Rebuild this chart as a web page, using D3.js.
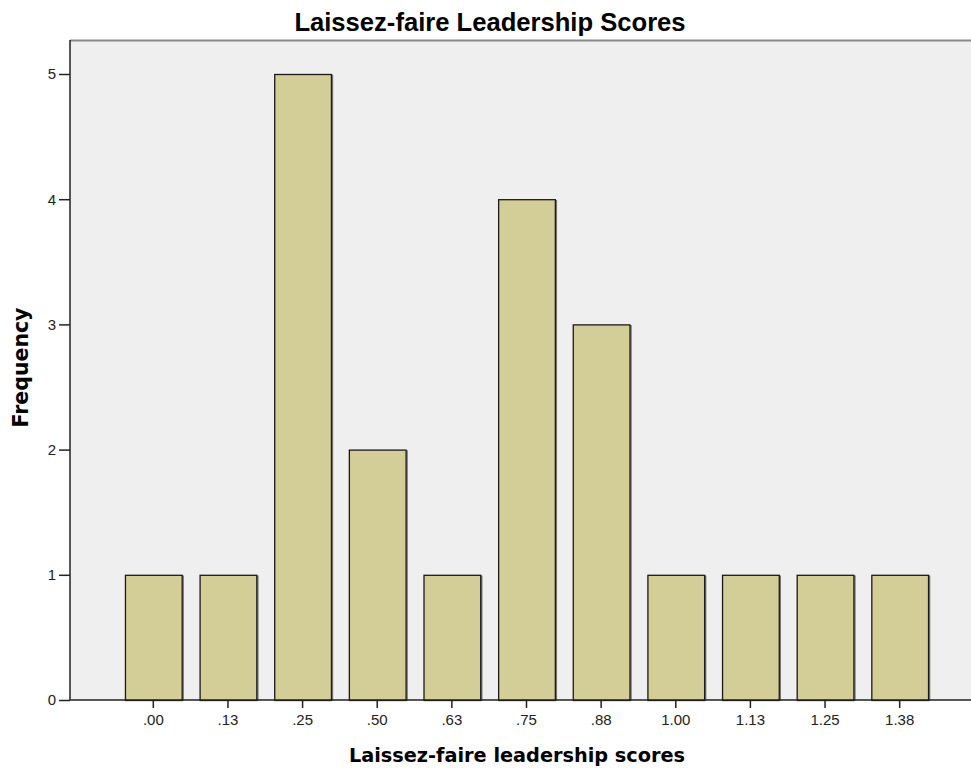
<!DOCTYPE html>
<html>
<head>
<meta charset="utf-8">
<script src="https://cdn.jsdelivr.net/npm/d3@7"></script>
<style>
  body { margin: 0; background: #fff; }
  text { font-family: Arial, "Liberation Sans", sans-serif; }
</style>
</head>
<body>
<script>
'use strict';

var categories = ['.00', '.13', '.25', '.50', '.63', '.75', '.88', '1.00', '1.13', '1.25', '1.38'];
var frequencies = [1, 1, 5, 2, 1, 4, 3, 1, 1, 1, 1];
var yTicks = [0, 1, 2, 3, 4, 5];

var width = 971;
var height = 772;

var plot = {left: 70, top: 40, right: 971, bottom: 700};

var svg = d3.select('body').append('svg')
    .attr('width', width)
    .attr('height', height);

var x = d3.scaleBand()
    .domain(categories)
    .range([116, 937])
    .paddingInner(0.24)
    .paddingOuter(0.12);

var y = d3.scaleLinear()
    .domain([0, 5])
    .range([plot.bottom, 74]);

// plot background
svg.append('rect')
    .attr('x', plot.left)
    .attr('y', plot.top)
    .attr('width', plot.right - plot.left)
    .attr('height', plot.bottom - plot.top)
    .attr('fill', '#efefef');

// top frame line
svg.append('line')
    .attr('x1', plot.left).attr('x2', plot.right)
    .attr('y1', plot.top + 0.5).attr('y2', plot.top + 0.5)
    .attr('stroke', '#888')
    .attr('stroke-width', 2);

// bars (with a faint shadow edge)
svg.selectAll('rect.shadow')
    .data(frequencies)
    .enter().append('rect')
    .attr('class', 'shadow')
    .attr('x', function(d, i) { return x(categories[i]) + 1.5; })
    .attr('y', function(d) { return y(d) + 1.5; })
    .attr('width', x.bandwidth())
    .attr('height', function(d) { return y(0) - y(d) - 1.5; })
    .attr('fill', 'none')
    .attr('stroke', '#777')
    .attr('stroke-width', 1.5);

svg.selectAll('rect.bar')
    .data(frequencies)
    .enter().append('rect')
    .attr('class', 'bar')
    .attr('x', function(d, i) { return x(categories[i]) + 0.5; })
    .attr('y', function(d) { return y(d) + 0.5; })
    .attr('width', x.bandwidth())
    .attr('height', function(d) { return y(0) - y(d); })
    .attr('fill', '#d3ce97')
    .attr('stroke', '#1a1a1a')
    .attr('stroke-width', 1.3);

// y axis
var yAxis = svg.append('g')
    .attr('transform', 'translate(' + plot.left + ',0)')
    .call(d3.axisLeft(y).tickValues(yTicks).tickFormat(d3.format('d')).tickSize(11).tickPadding(3));

// x axis
var xAxis = svg.append('g')
    .attr('transform', 'translate(0,' + plot.bottom + ')')
    .call(d3.axisBottom(x).tickSize(8).tickPadding(6));

xAxis.select('.domain').remove();
svg.append('line')
    .attr('x1', plot.left).attr('x2', plot.right)
    .attr('y1', plot.bottom).attr('y2', plot.bottom)
    .attr('stroke', '#222')
    .attr('stroke-width', 1.5);

yAxis.select('.domain').remove();
svg.append('line')
    .attr('x1', plot.left).attr('x2', plot.left)
    .attr('y1', plot.top).attr('y2', plot.bottom)
    .attr('stroke', '#222')
    .attr('stroke-width', 1.5);

[xAxis, yAxis].forEach(function(g) {
  g.attr('font-size', null).attr('font-family', null);
  g.selectAll('text')
    .attr('fill', '#222')
    .style('font-size', '15px')
    .style('font-family', 'Arial, "Liberation Sans", sans-serif');
  g.selectAll('.tick line').attr('stroke', '#222').attr('stroke-width', 1.5);
});

// title
svg.append('text')
    .attr('x', 490)
    .attr('y', 31)
    .attr('text-anchor', 'middle')
    .style('font-size', '25.6px')
    .style('font-weight', 'bold')
    .text('Laissez-faire Leadership Scores');

// x label
svg.append('text')
    .attr('x', 517)
    .attr('y', 762)
    .attr('text-anchor', 'middle')
    .style('font-family', '"DejaVu Sans", sans-serif')
    .style('font-size', '19.3px')
    .style('font-weight', 'bold')
    .text('Laissez-faire leadership scores');

// y label
svg.append('text')
    .attr('transform', 'translate(28,367.5) rotate(-90)')
    .attr('text-anchor', 'middle')
    .style('font-family', '"DejaVu Sans", sans-serif')
    .style('font-size', '20.5px')
    .style('font-weight', 'bold')
    .text('Frequency');
</script>
</body>
</html>
